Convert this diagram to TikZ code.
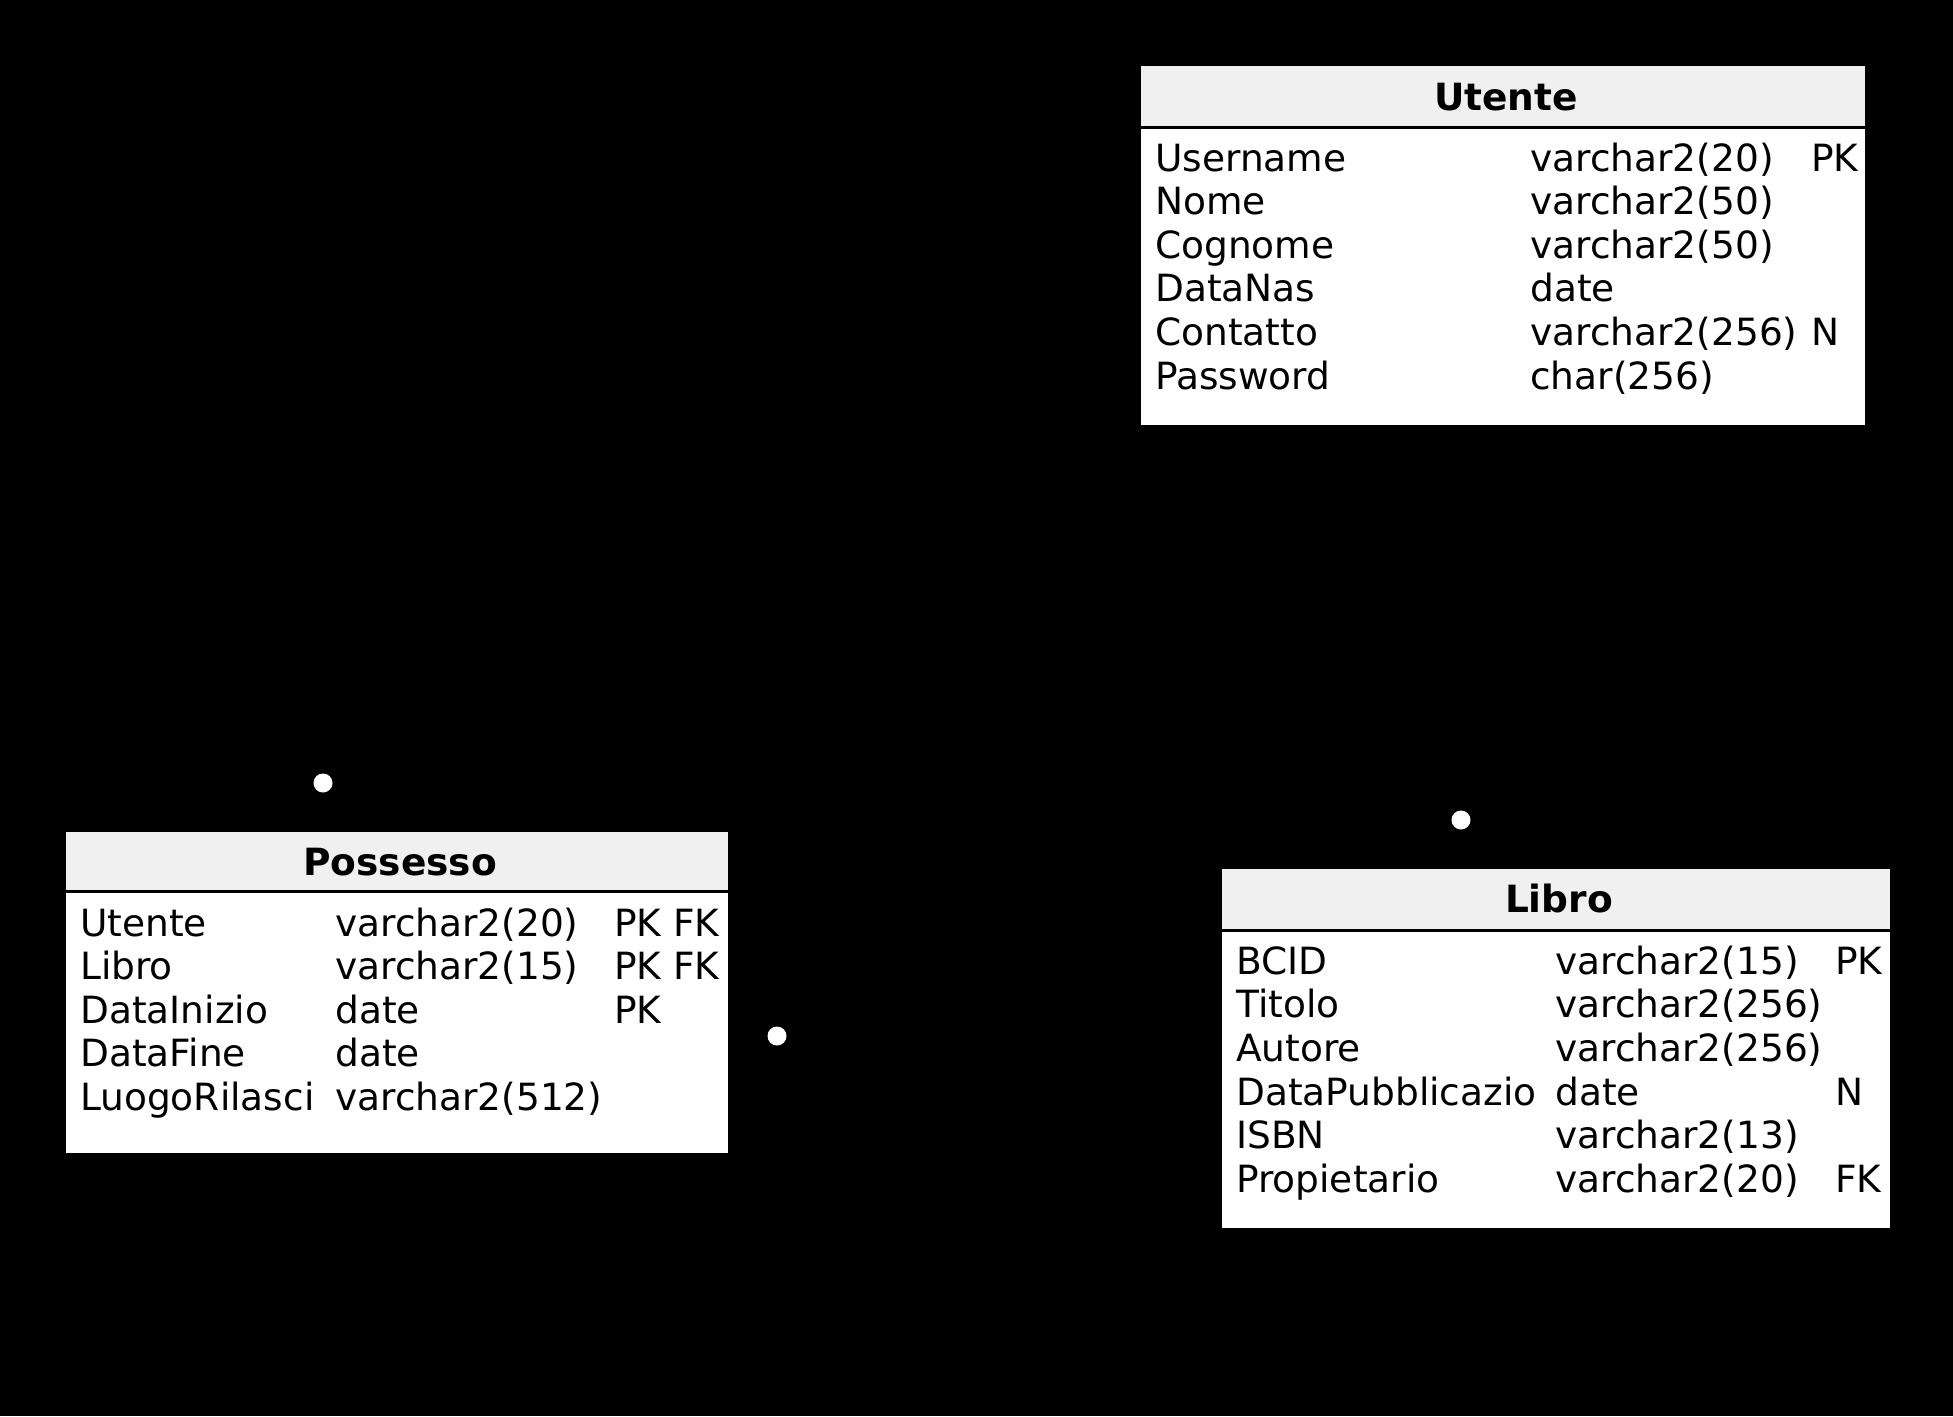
\documentclass[tikz,border=0pt]{standalone}
\usepackage{fontspec}
\setmainfont{DejaVu Sans}
\begin{document}
\begin{tikzpicture}[x=1pt,y=-1pt,
  tablebox/.style={draw=black,line width=1pt,fill=white,inner sep=0pt,rectangle},
  headbox/.style={fill=headgray,inner sep=0pt,rectangle},
  divider/.style={draw=black,line width=3pt},
  cell/.style={anchor=base west,inner sep=0pt,font=\fontsize{37.5}{43.6}\selectfont},
  title/.style={anchor=base,inner sep=0pt,font=\fontsize{37.5}{43.6}\selectfont\bfseries},
  dot/.style={circle,fill=white,inner sep=0pt,minimum size=19pt},
  link/.style={draw=black,line width=2pt}]
\definecolor{headgray}{HTML}{F0F0F0}
\fill[black] (0,0) rectangle (1953,1416);
\useasboundingbox (0,0) rectangle (1953,1416);

% Utente
\node[tablebox,minimum width=725pt,minimum height=360pt] (utente) at (1503,245.5) {};
\node[headbox,minimum width=724pt,minimum height=61pt] (utenteh) at (1503,96.5) {};
\draw[divider] (utenteh.south west) -- (utenteh.south east);
\node[title] (utentet) at (1506,110) {Utente};
\node[cell] (u1a) at (1155,171) {Username};
\node[cell] (u1b) at (1530,171) {varchar2(20)};
\node[cell] (u1c) at (1811,171) {PK};
\node[cell] (u2a) at (1155,214.6) {Nome};
\node[cell] (u2b) at (1530,214.6) {varchar2(50)};
\node[cell] (u3a) at (1155,258.2) {Cognome};
\node[cell] (u3b) at (1530,258.2) {varchar2(50)};
\node[cell] (u4a) at (1155,301.8) {DataNas};
\node[cell] (u4b) at (1530,301.8) {date};
\node[cell] (u5a) at (1155,345.4) {Contatto};
\node[cell] (u5b) at (1530,345.4) {varchar2(256)};
\node[cell] (u5c) at (1811,345.4) {N};
\node[cell] (u6a) at (1155,389) {Password};
\node[cell] (u6b) at (1530,389) {char(256)};

% Possesso
\node[tablebox,minimum width=663pt,minimum height=322pt] (possesso) at (397,992.5) {};
\node[headbox,minimum width=662pt,minimum height=59pt] (possessoh) at (397,861.5) {};
\draw[divider] (possessoh.south west) -- (possessoh.south east);
\node[title] (possessot) at (400,875) {Possesso};
\node[cell] (p1a) at (80,936) {Utente};
\node[cell] (p1b) at (335,936) {varchar2(20)};
\node[cell] (p1c) at (614,936) {PK FK};
\node[cell] (p2a) at (80,979.6) {Libro};
\node[cell] (p2b) at (335,979.6) {varchar2(15)};
\node[cell] (p2c) at (614,979.6) {PK FK};
\node[cell] (p3a) at (80,1023.2) {DataInizio};
\node[cell] (p3b) at (335,1023.2) {date};
\node[cell] (p3c) at (614,1023.2) {PK};
\node[cell] (p4a) at (80,1066.8) {DataFine};
\node[cell] (p4b) at (335,1066.8) {date};
\node[cell] (p5a) at (80,1110.4) {LuogoRilasci};
\node[cell] (p5b) at (335,1110.4) {varchar2(512)};

% Libro
\node[tablebox,minimum width=669pt,minimum height=360pt] (libro) at (1556,1048.5) {};
\node[headbox,minimum width=668pt,minimum height=61pt] (libroh) at (1556,899.5) {};
\draw[divider] (libroh.south west) -- (libroh.south east);
\node[title] (librot) at (1559,912.5) {Libro};
\node[cell] (l1a) at (1236,974.3) {BCID};
\node[cell] (l1b) at (1555,974.3) {varchar2(15)};
\node[cell] (l1c) at (1835,974.3) {PK};
\node[cell] (l2a) at (1236,1017.9) {Titolo};
\node[cell] (l2b) at (1555,1017.9) {varchar2(256)};
\node[cell] (l3a) at (1236,1061.5) {Autore};
\node[cell] (l3b) at (1555,1061.5) {varchar2(256)};
\node[cell] (l4a) at (1236,1105.1) {DataPubblicazio};
\node[cell] (l4b) at (1555,1105.1) {date};
\node[cell] (l4c) at (1835,1105.1) {N};
\node[cell] (l5a) at (1236,1148.7) {ISBN};
\node[cell] (l5b) at (1555,1148.7) {varchar2(13)};
\node[cell] (l6a) at (1236,1192.3) {Propietario};
\node[cell] (l6b) at (1555,1192.3) {varchar2(20)};
\node[cell] (l6c) at (1835,1192.3) {FK};

% relationship end points
\node[dot] (d1) at (323,783) {};
\node[dot] (d2) at (777,1036) {};
\node[dot] (d3) at (1461,820) {};
\draw[link] (d1) -- (d1 |- possesso.north);
\draw[link] (d2) -- (d2 -| possesso.east);
\draw[link] (d3) -- (d3 |- libro.north);
\end{tikzpicture}
\end{document}
